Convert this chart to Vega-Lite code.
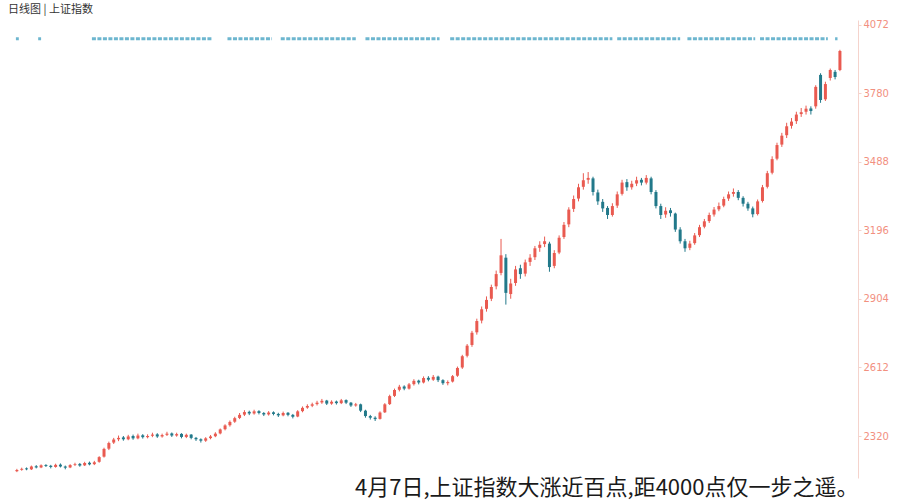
{
  "$schema": "https://vega.github.io/schema/vega-lite/v6.json",
  "width": 850,
  "height": 458,
  "autosize": "none",
  "padding": {"left": 8, "top": 20, "right": 40, "bottom": 24},
  "background": "#ffffff",
  "config": {"view": {"stroke": null}},
  "title": {"text": "日线图 | 上证指数", "anchor": "start", "orient": "top", "offset": 5, "fontSize": 11, "fontWeight": "normal", "color": "#333333", "font": "Noto Sans CJK SC"},
  "datasets": {
    "k": [
      {"i":0,"o":2170,"h":2180,"l":2166,"c":2175},{"i":1,"o":2176,"h":2185,"l":2172,"c":2180},{"i":2,"o":2182,"h":2186,"l":2174,"c":2178},{"i":3,"o":2178,"h":2194,"l":2175,"c":2190},{"i":4,"o":2191,"h":2196,"l":2182,"c":2186},{"i":5,"o":2186,"h":2199,"l":2183,"c":2195},{"i":6,"o":2196,"h":2200,"l":2188,"c":2192},{"i":7,"o":2193,"h":2197,"l":2182,"c":2188},{"i":8,"o":2188,"h":2202,"l":2185,"c":2197},{"i":9,"o":2198,"h":2203,"l":2186,"c":2190},
      {"i":10,"o":2190,"h":2194,"l":2178,"c":2185},{"i":11,"o":2186,"h":2200,"l":2183,"c":2196},{"i":12,"o":2197,"h":2206,"l":2192,"c":2200},{"i":13,"o":2201,"h":2205,"l":2189,"c":2194},{"i":14,"o":2195,"h":2210,"l":2192,"c":2205},{"i":15,"o":2206,"h":2211,"l":2195,"c":2199},{"i":16,"o":2200,"h":2214,"l":2196,"c":2208},{"i":17,"o":2210,"h":2234,"l":2206,"c":2230},{"i":18,"o":2232,"h":2270,"l":2228,"c":2265},{"i":19,"o":2266,"h":2296,"l":2260,"c":2290},
      {"i":20,"o":2292,"h":2312,"l":2286,"c":2305},{"i":21,"o":2306,"h":2322,"l":2298,"c":2312},{"i":22,"o":2314,"h":2320,"l":2300,"c":2306},{"i":23,"o":2306,"h":2325,"l":2302,"c":2318},{"i":24,"o":2320,"h":2326,"l":2304,"c":2310},{"i":25,"o":2310,"h":2330,"l":2306,"c":2322},{"i":26,"o":2323,"h":2328,"l":2309,"c":2315},{"i":27,"o":2315,"h":2327,"l":2310,"c":2320},{"i":28,"o":2321,"h":2334,"l":2315,"c":2326},{"i":29,"o":2327,"h":2332,"l":2312,"c":2318},
      {"i":30,"o":2318,"h":2330,"l":2313,"c":2324},{"i":31,"o":2325,"h":2338,"l":2320,"c":2330},{"i":32,"o":2331,"h":2335,"l":2316,"c":2322},{"i":33,"o":2322,"h":2334,"l":2317,"c":2328},{"i":34,"o":2329,"h":2332,"l":2310,"c":2316},{"i":35,"o":2316,"h":2330,"l":2311,"c":2325},{"i":36,"o":2326,"h":2328,"l":2306,"c":2312},{"i":37,"o":2312,"h":2316,"l":2299,"c":2306},{"i":38,"o":2306,"h":2310,"l":2292,"c":2300},{"i":39,"o":2300,"h":2315,"l":2295,"c":2310},
      {"i":40,"o":2311,"h":2324,"l":2306,"c":2318},{"i":41,"o":2319,"h":2336,"l":2315,"c":2330},{"i":42,"o":2331,"h":2352,"l":2327,"c":2348},{"i":43,"o":2349,"h":2370,"l":2344,"c":2365},{"i":44,"o":2366,"h":2386,"l":2360,"c":2380},{"i":45,"o":2381,"h":2402,"l":2376,"c":2396},{"i":46,"o":2397,"h":2418,"l":2392,"c":2410},{"i":47,"o":2411,"h":2430,"l":2405,"c":2422},{"i":48,"o":2423,"h":2428,"l":2409,"c":2416},{"i":49,"o":2416,"h":2432,"l":2411,"c":2425},
      {"i":50,"o":2426,"h":2430,"l":2412,"c":2418},{"i":51,"o":2418,"h":2422,"l":2405,"c":2412},{"i":52,"o":2412,"h":2426,"l":2407,"c":2420},{"i":53,"o":2421,"h":2425,"l":2408,"c":2414},{"i":54,"o":2414,"h":2419,"l":2401,"c":2408},{"i":55,"o":2408,"h":2424,"l":2404,"c":2418},{"i":56,"o":2419,"h":2422,"l":2404,"c":2410},{"i":57,"o":2410,"h":2414,"l":2395,"c":2402},{"i":58,"o":2403,"h":2430,"l":2400,"c":2425},{"i":59,"o":2426,"h":2446,"l":2421,"c":2440},
      {"i":60,"o":2441,"h":2455,"l":2436,"c":2448},{"i":61,"o":2449,"h":2462,"l":2443,"c":2455},{"i":62,"o":2456,"h":2470,"l":2450,"c":2462},{"i":63,"o":2463,"h":2478,"l":2457,"c":2470},{"i":64,"o":2471,"h":2474,"l":2452,"c":2458},{"i":65,"o":2458,"h":2472,"l":2453,"c":2466},{"i":66,"o":2467,"h":2471,"l":2454,"c":2460},{"i":67,"o":2460,"h":2478,"l":2456,"c":2472},{"i":68,"o":2473,"h":2476,"l":2456,"c":2462},{"i":69,"o":2462,"h":2465,"l":2444,"c":2450},
      {"i":70,"o":2450,"h":2461,"l":2445,"c":2455},{"i":71,"o":2455,"h":2458,"l":2422,"c":2428},{"i":72,"o":2428,"h":2432,"l":2398,"c":2405},{"i":73,"o":2405,"h":2410,"l":2390,"c":2398},{"i":74,"o":2398,"h":2404,"l":2384,"c":2392},{"i":75,"o":2393,"h":2425,"l":2390,"c":2420},{"i":76,"o":2421,"h":2460,"l":2418,"c":2455},{"i":77,"o":2456,"h":2496,"l":2452,"c":2490},{"i":78,"o":2491,"h":2522,"l":2486,"c":2516},{"i":79,"o":2517,"h":2538,"l":2510,"c":2530},
      {"i":80,"o":2531,"h":2536,"l":2515,"c":2522},{"i":81,"o":2522,"h":2546,"l":2518,"c":2540},{"i":82,"o":2541,"h":2562,"l":2535,"c":2555},{"i":83,"o":2556,"h":2560,"l":2540,"c":2548},{"i":84,"o":2548,"h":2574,"l":2544,"c":2567},{"i":85,"o":2568,"h":2575,"l":2553,"c":2560},{"i":86,"o":2560,"h":2580,"l":2555,"c":2572},{"i":87,"o":2573,"h":2577,"l":2550,"c":2558},{"i":88,"o":2558,"h":2562,"l":2538,"c":2545},{"i":89,"o":2545,"h":2557,"l":2536,"c":2550},
      {"i":90,"o":2552,"h":2580,"l":2548,"c":2575},{"i":91,"o":2577,"h":2616,"l":2572,"c":2610},{"i":92,"o":2612,"h":2666,"l":2606,"c":2660},{"i":93,"o":2662,"h":2712,"l":2655,"c":2705},{"i":94,"o":2708,"h":2768,"l":2700,"c":2760},{"i":95,"o":2762,"h":2820,"l":2752,"c":2810},{"i":96,"o":2812,"h":2872,"l":2800,"c":2860},{"i":97,"o":2862,"h":2915,"l":2850,"c":2900},{"i":98,"o":2905,"h":2965,"l":2895,"c":2955},{"i":99,"o":2958,"h":3025,"l":2945,"c":3010},
      {"i":100,"o":3015,"h":3160,"l":3005,"c":3090},{"i":101,"o":3080,"h":3095,"l":2880,"c":2930},{"i":102,"o":2925,"h":2990,"l":2905,"c":2970},{"i":103,"o":2972,"h":3045,"l":2960,"c":3030},{"i":104,"o":3035,"h":3050,"l":2990,"c":3010},{"i":105,"o":3012,"h":3072,"l":3000,"c":3060},{"i":106,"o":3062,"h":3095,"l":3045,"c":3080},{"i":107,"o":3082,"h":3130,"l":3070,"c":3120},{"i":108,"o":3122,"h":3150,"l":3105,"c":3135},{"i":109,"o":3138,"h":3170,"l":3125,"c":3150},
      {"i":110,"o":3140,"h":3148,"l":3020,"c":3040},{"i":111,"o":3045,"h":3112,"l":3035,"c":3100},{"i":112,"o":3102,"h":3175,"l":3095,"c":3165},{"i":113,"o":3168,"h":3232,"l":3160,"c":3220},{"i":114,"o":3222,"h":3295,"l":3210,"c":3285},{"i":115,"o":3288,"h":3345,"l":3275,"c":3330},{"i":116,"o":3332,"h":3395,"l":3320,"c":3380},{"i":117,"o":3382,"h":3440,"l":3370,"c":3410},{"i":118,"o":3412,"h":3445,"l":3395,"c":3420},{"i":119,"o":3418,"h":3425,"l":3345,"c":3360},
      {"i":120,"o":3358,"h":3370,"l":3305,"c":3320},{"i":121,"o":3318,"h":3330,"l":3275,"c":3290},{"i":122,"o":3292,"h":3300,"l":3245,"c":3262},{"i":123,"o":3262,"h":3312,"l":3255,"c":3300},{"i":124,"o":3302,"h":3362,"l":3292,"c":3350},{"i":125,"o":3352,"h":3412,"l":3345,"c":3400},{"i":126,"o":3402,"h":3415,"l":3365,"c":3380},{"i":127,"o":3380,"h":3408,"l":3370,"c":3395},{"i":128,"o":3396,"h":3425,"l":3385,"c":3410},{"i":129,"o":3412,"h":3420,"l":3388,"c":3400},
      {"i":130,"o":3400,"h":3432,"l":3392,"c":3420},{"i":131,"o":3418,"h":3425,"l":3350,"c":3360},{"i":132,"o":3360,"h":3368,"l":3290,"c":3300},{"i":133,"o":3300,"h":3310,"l":3245,"c":3262},{"i":134,"o":3264,"h":3295,"l":3250,"c":3280},{"i":135,"o":3282,"h":3292,"l":3255,"c":3270},{"i":136,"o":3268,"h":3272,"l":3190,"c":3200},{"i":137,"o":3200,"h":3210,"l":3140,"c":3150},{"i":138,"o":3150,"h":3160,"l":3105,"c":3120},{"i":139,"o":3122,"h":3152,"l":3112,"c":3140},
      {"i":140,"o":3142,"h":3185,"l":3135,"c":3175},{"i":141,"o":3176,"h":3220,"l":3168,"c":3210},{"i":142,"o":3212,"h":3245,"l":3205,"c":3235},{"i":143,"o":3236,"h":3272,"l":3228,"c":3262},{"i":144,"o":3264,"h":3296,"l":3255,"c":3285},{"i":145,"o":3286,"h":3315,"l":3278,"c":3300},{"i":146,"o":3302,"h":3340,"l":3295,"c":3330},{"i":147,"o":3332,"h":3362,"l":3322,"c":3350},{"i":148,"o":3352,"h":3375,"l":3340,"c":3360},{"i":149,"o":3360,"h":3368,"l":3325,"c":3335},
      {"i":150,"o":3335,"h":3342,"l":3298,"c":3310},{"i":151,"o":3310,"h":3318,"l":3280,"c":3290},{"i":152,"o":3290,"h":3298,"l":3252,"c":3265},{"i":153,"o":3266,"h":3328,"l":3260,"c":3320},{"i":154,"o":3322,"h":3390,"l":3315,"c":3380},{"i":155,"o":3382,"h":3450,"l":3375,"c":3440},{"i":156,"o":3442,"h":3512,"l":3435,"c":3500},{"i":157,"o":3502,"h":3570,"l":3495,"c":3560},{"i":158,"o":3562,"h":3612,"l":3552,"c":3600},{"i":159,"o":3602,"h":3655,"l":3590,"c":3640},
      {"i":160,"o":3642,"h":3675,"l":3630,"c":3660},{"i":161,"o":3662,"h":3702,"l":3650,"c":3690},{"i":162,"o":3692,"h":3718,"l":3680,"c":3700},{"i":163,"o":3702,"h":3728,"l":3690,"c":3715},{"i":164,"o":3716,"h":3725,"l":3690,"c":3705},{"i":165,"o":3725,"h":3815,"l":3715,"c":3808},{"i":166,"o":3859,"h":3866,"l":3740,"c":3752},{"i":167,"o":3755,"h":3830,"l":3748,"c":3820},{"i":168,"o":3846,"h":3886,"l":3835,"c":3880},{"i":169,"o":3872,"h":3880,"l":3840,"c":3850},
      {"i":170,"o":3880,"h":3966,"l":3875,"c":3961}
    ],
    "strip": [
      {"s":-0.2,"e":0.4},{"s":4.4,"e":5.0},{"s":15.5,"e":40.2},{"s":43.5,"e":52.7},{"s":54.5,"e":70},{"s":72,"e":87.3},{"s":89.5,"e":123},{"s":124,"e":137},{"s":138.5,"e":152.5},{"s":153.5,"e":167.5},{"s":169,"e":169.5}
    ]
  },
  "layer": [
    {
      "data": {"name": "k"},
      "mark": {"type": "rule", "strokeWidth": 1},
      "encoding": {
        "x": {"field": "i", "type": "quantitative", "scale": {"domain": [-0.8, 172.7], "nice": false, "zero": false},
              "axis": {"orient": "bottom", "labels": false, "ticks": false, "domain": false, "grid": false,
                       "title": "4月7日,上证指数大涨近百点,距4000点仅一步之遥。", "titleFont": "Noto Sans CJK SC", "titleFontSize": 22, "titleFontWeight": "normal", "titleColor": "#1a1a1a", "titleAnchor": "end", "titlePadding": -1}},
        "y": {"field": "l", "type": "quantitative", "scale": {"domain": [2141, 4093], "nice": false, "zero": false},
              "axis": {"orient": "right", "title": null, "values": [2320, 2612, 2904, 3196, 3488, 3780, 4072], "format": "d", "grid": false,
                       "labelColor": "#f2907f", "labelFontSize": 10, "labelFont": "DejaVu Sans", "domainColor": "#f5d3cc", "tickColor": "#f5d3cc", "tickSize": 3, "labelPadding": 2}},
        "y2": {"field": "h"},
        "color": {"condition": {"test": "datum.c >= datum.o", "value": "#e95a50"}, "value": "#22798a"}
      }
    },
    {
      "data": {"name": "k"},
      "mark": {"type": "bar", "size": 3},
      "encoding": {
        "x": {"field": "i", "type": "quantitative"},
        "y": {"field": "o", "type": "quantitative"},
        "y2": {"field": "c"},
        "color": {"condition": {"test": "datum.c >= datum.o", "value": "#e95a50"}, "value": "#22798a"}
      }
    },
    {
      "data": {"name": "strip"},
      "mark": {"type": "rule", "strokeWidth": 3, "color": "#6db6cf", "strokeDash": [4, 1.5]},
      "encoding": {
        "x": {"field": "s", "type": "quantitative"},
        "x2": {"field": "e"},
        "y": {"datum": 4013, "type": "quantitative"}
      }
    }
  ]
}
